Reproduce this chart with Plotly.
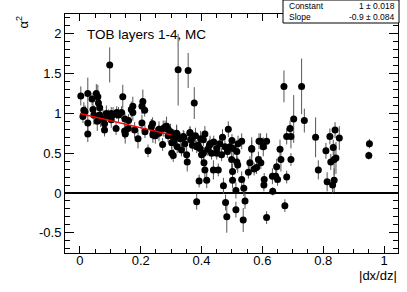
import plotly.graph_objects as go

# ---- data ----
x_vals = [
    0.003, 0.010, 0.013, 0.017, 0.026, 0.026, 0.026, 0.040, 0.043, 0.046,
    0.054, 0.059, 0.061, 0.065, 0.065, 0.057, 0.068, 0.076, 0.081, 0.081,
    0.087, 0.094, 0.098,
    0.103, 0.109, 0.103, 0.119, 0.121, 0.127, 0.141, 0.137, 0.147, 0.149,
    0.148, 0.160, 0.159, 0.169, 0.174, 0.174, 0.180, 0.191, 0.204, 0.207,
    0.204, 0.213, 0.214, 0.224, 0.235, 0.240, 0.248,
    0.239, 0.241, 0.272, 0.274, 0.285, 0.280, 0.298, 0.309, 0.309, 0.318,
    0.302, 0.307, 0.320, 0.323, 0.334, 0.340, 0.351, 0.353, 0.356, 0.362,
    0.364, 0.376, 0.384, 0.392, 0.384, 0.397, 0.395, 0.302, 0.318, 0.342,
    0.362, 0.367, 0.389, 0.400, 0.260, 0.290, 0.330, 0.345, 0.370, 0.380,
    0.260, 0.290,
    0.406, 0.411, 0.406, 0.408, 0.411, 0.417, 0.426, 0.428, 0.433, 0.439,
    0.450, 0.450, 0.455, 0.466, 0.469, 0.472, 0.477, 0.479, 0.483, 0.488,
    0.493, 0.499, 0.502, 0.504, 0.513, 0.513, 0.516, 0.516, 0.519, 0.532,
    0.532, 0.537, 0.539, 0.543, 0.502, 0.420, 0.440, 0.460, 0.485, 0.500,
    0.520,
    0.554, 0.559, 0.565, 0.573, 0.581, 0.587, 0.589, 0.595, 0.603, 0.605,
    0.606, 0.614, 0.614, 0.633, 0.634, 0.644, 0.647, 0.650, 0.658, 0.661,
    0.671, 0.674, 0.680, 0.680, 0.691, 0.694, 0.694, 0.703, 0.565, 0.594,
    0.729, 0.738, 0.775, 0.784, 0.809, 0.813, 0.822, 0.825, 0.831, 0.833,
    0.836, 0.836, 0.839, 0.842, 0.853, 0.950, 0.952,
]
y_vals = [
    1.22, 0.96, 1.04, 1.02, 1.25, 0.88, 0.74, 1.18, 1.05, 0.98,
    1.25, 1.21, 1.13, 1.07, 0.98, 0.90, 0.93, 0.93, 0.87, 0.79,
    1.00, 0.97, 1.61,
    1.00, 0.98, 0.92, 0.81, 1.01, 0.98, 1.21, 1.01, 0.78, 0.74,
    0.93, 0.91, 0.81, 1.05, 1.09, 1.01, 0.79, 0.68, 0.88, 1.15,
    1.09, 1.04, 0.77, 0.53, 0.83, 0.73, 0.72,
    0.87, 0.75, 0.61, 0.81, 0.84, 0.83, 0.77, 0.70, 0.65, 0.74,
    0.50, 0.47, 0.58, 1.55, 0.54, 0.71, 0.48, 0.39, 1.54, 0.76,
    0.67, 1.13, 0.58, 0.15, -0.11, 0.68, 0.56, 0.63, 0.75, 0.70,
    0.75, 0.67, 0.60, 0.48, 0.75, 0.80, 0.68, 0.62, 0.60, 0.72,
    0.80, 0.72,
    0.67, 0.74, 0.50, 0.38, 0.29, 0.16, 0.60, 0.62, 0.50, 0.29,
    0.56, 0.50, 0.29, 0.48, 0.70, 0.09, 0.58, -0.12, -0.30, 0.80,
    0.58, 0.42, 0.27, 0.56, 0.03, -0.21, 0.52, 0.39, 0.35, 0.65,
    0.17, -0.34, 0.06, -0.10, 0.16, 0.55, 0.64, 0.62, 0.52, 0.66,
    0.62,
    0.26, 0.38, 0.55, 0.30, 0.32, 0.42, 0.65, 0.38, 0.58, 0.10,
    0.17, 0.65, -0.31, 0.21, 0.02, 0.21, 0.33, 0.17, 0.55, 0.42,
    1.34, -0.16, 0.71, 0.20, 0.81, 0.71, 0.42, 0.93, 0.56, 0.65,
    1.34, 0.91, 0.70, 0.29, 0.53, 0.14, 0.71, 0.39, 0.10, 0.57,
    0.42, 0.16, 0.79, 0.44, 0.69, 0.47, 0.62,
]
y_errs = [
    0.12, 0.08, 0.10, 0.08, 0.20, 0.10, 0.10, 0.08, 0.12, 0.12,
    0.12, 0.15, 0.10, 0.12, 0.10, 0.12, 0.10, 0.12, 0.10, 0.08,
    0.10, 0.08, 0.22,
    0.08, 0.10, 0.10, 0.08, 0.08, 0.10, 0.15, 0.08, 0.10, 0.12,
    0.08, 0.08, 0.08, 0.10, 0.12, 0.10, 0.10, 0.12, 0.10, 0.15,
    0.10, 0.08, 0.08, 0.08, 0.10, 0.10, 0.10,
    0.08, 0.08, 0.08, 0.10, 0.12, 0.08, 0.10, 0.10, 0.08, 0.12,
    0.08, 0.08, 0.08, 0.45, 0.08, 0.08, 0.10, 0.12, 0.22, 0.08,
    0.10, 0.20, 0.08, 0.08, 0.10, 0.10, 0.08, 0.08, 0.10, 0.08,
    0.08, 0.10, 0.08, 0.10, 0.10, 0.08, 0.08, 0.08, 0.08, 0.10,
    0.10, 0.08,
    0.08, 0.10, 0.08, 0.10, 0.10, 0.10, 0.08, 0.10, 0.08, 0.12,
    0.10, 0.08, 0.08, 0.08, 0.10, 0.10, 0.08, 0.10, 0.20, 0.10,
    0.10, 0.15, 0.10, 0.10, 0.10, 0.10, 0.12, 0.10, 0.10, 0.10,
    0.10, 0.15, 0.10, 0.10, 0.10, 0.08, 0.08, 0.10, 0.08, 0.08,
    0.10,
    0.08, 0.08, 0.15, 0.08, 0.08, 0.10, 0.10, 0.08, 0.12, 0.08,
    0.08, 0.10, 0.08, 0.10, 0.05, 0.08, 0.10, 0.08, 0.12, 0.15,
    0.20, 0.08, 0.10, 0.08, 0.10, 0.15, 0.08, 0.30, 0.10, 0.10,
    0.35, 0.15, 0.25, 0.12, 0.10, 0.12, 0.10, 0.10, 0.10, 0.10,
    0.20, 0.15, 0.10, 0.20, 0.15, 0.05, 0.06,
]

fit_constant = 1.0
fit_slope = -0.9
fit_range = [0.0, 0.3]

x_tickvals = [0, 0.2, 0.4, 0.6, 0.8, 1]
x_ticktext = ["0", "0.2", "0.4", "0.6", "0.8", "1"]
y_tickvals = [-0.5, 0, 0.5, 1, 1.5, 2]
y_ticktext = ["-0.5", "0", "0.5", "1", "1.5", "2"]

label_text = "TOB layers 1-4, MC"
stats_names = ["Constant", "Slope"]
stats_values = ["1 ± 0.018", "-0.9 ± 0.084"]

FONT = "Liberation Sans, Arial, sans-serif"

fig = go.Figure()

fig.add_trace(go.Scatter(
    x=x_vals, y=y_vals, mode="markers",
    marker=dict(color="black", size=7, line=dict(width=0)),
    error_y=dict(type="data", array=y_errs, color="#555555", thickness=1, width=0),
    showlegend=False, hoverinfo="skip",
))

fit_x = fit_range
fit_y = [fit_constant + fit_slope * v for v in fit_range]
fig.add_trace(go.Scatter(
    x=fit_x, y=fit_y, mode="lines",
    line=dict(color="red", width=1.5),
    showlegend=False, hoverinfo="skip",
))

axis_common = dict(
    showgrid=False, showline=True, linecolor="black", linewidth=1,
    mirror="allticks", ticks="inside", tickcolor="black",
    tickfont=dict(family=FONT, size=13, color="black"),
)

fig.update_xaxes(
    range=[-0.049, 1.046], tickvals=x_tickvals, ticktext=x_ticktext,
    ticklen=7, zeroline=False, ticklabelstandoff=-5,
    minor=dict(dtick=0.05, tick0=0, ticklen=4, ticks="inside", tickcolor="black", showgrid=False),
    **axis_common,
)
fig.update_yaxes(
    range=[-0.755, 2.25], tickvals=y_tickvals, ticktext=y_ticktext,
    ticklen=9, zeroline=True, zerolinecolor="black", zerolinewidth=2,
    minor=dict(dtick=0.1, tick0=0, ticklen=5, ticks="inside", tickcolor="black", showgrid=False),
    **axis_common,
)

W, H = 407, 292
ml, mr, mt, mb = 65, 9, 14, 39
pw, ph = W - ml - mr, H - mt - mb

def px2paper(px, py):
    return (px - ml) / pw, (H - mb - py) / ph

bx0, by0 = px2paper(283, 23)
bx1, by1 = px2paper(399, 0)

shapes = [dict(type="rect", xref="paper", yref="paper", x0=bx0, y0=by0, x1=bx1, y1=by1,
               line=dict(color="black", width=1), fillcolor="white", layer="above")]

annotations = []
row_y = [6, 17]
for name, val, ry in zip(stats_names, stats_values, row_y):
    ax, ay = px2paper(287, ry)
    annotations.append(dict(x=ax, y=ay, xref="paper", yref="paper", text=name,
                            showarrow=False, xanchor="left", yanchor="middle",
                            font=dict(family=FONT, size=8.5, color="black")))
    ax2, _ = px2paper(397, ry)
    annotations.append(dict(x=ax2, y=ay, xref="paper", yref="paper", text=val,
                            showarrow=False, xanchor="right", yanchor="middle",
                            font=dict(family=FONT, size=8.5, color="black")))

tx, ty = px2paper(85, 34)
annotations.append(dict(x=tx, y=ty, xref="paper", yref="paper", text=label_text,
                        showarrow=False, xanchor="left", yanchor="middle",
                        font=dict(family=FONT, size=13.5, color="black")))

ytx, yty = px2paper(22, 14)
annotations.append(dict(x=ytx, y=yty, xref="paper", yref="paper", text="α<sup>2</sup>",
                        showarrow=False, xanchor="center", yanchor="top", textangle=-90,
                        font=dict(family=FONT, size=13, color="black")))

xtx, xty = px2paper(399, 275)
annotations.append(dict(x=xtx, y=xty, xref="paper", yref="paper", text="|dx/dz|",
                        showarrow=False, xanchor="right", yanchor="middle",
                        font=dict(family=FONT, size=13, color="black")))

fig.update_layout(
    width=W, height=H,
    margin=dict(l=ml, r=mr, t=mt, b=mb, pad=0),
    paper_bgcolor="white", plot_bgcolor="white",
    shapes=shapes, annotations=annotations,
    showlegend=False,
)

fig.write_html(
    "out.html",
    config={"displayModeBar": False, "staticPlot": True},
    post_script="document.body.style.margin='0';document.body.style.overflow='hidden';",
)
